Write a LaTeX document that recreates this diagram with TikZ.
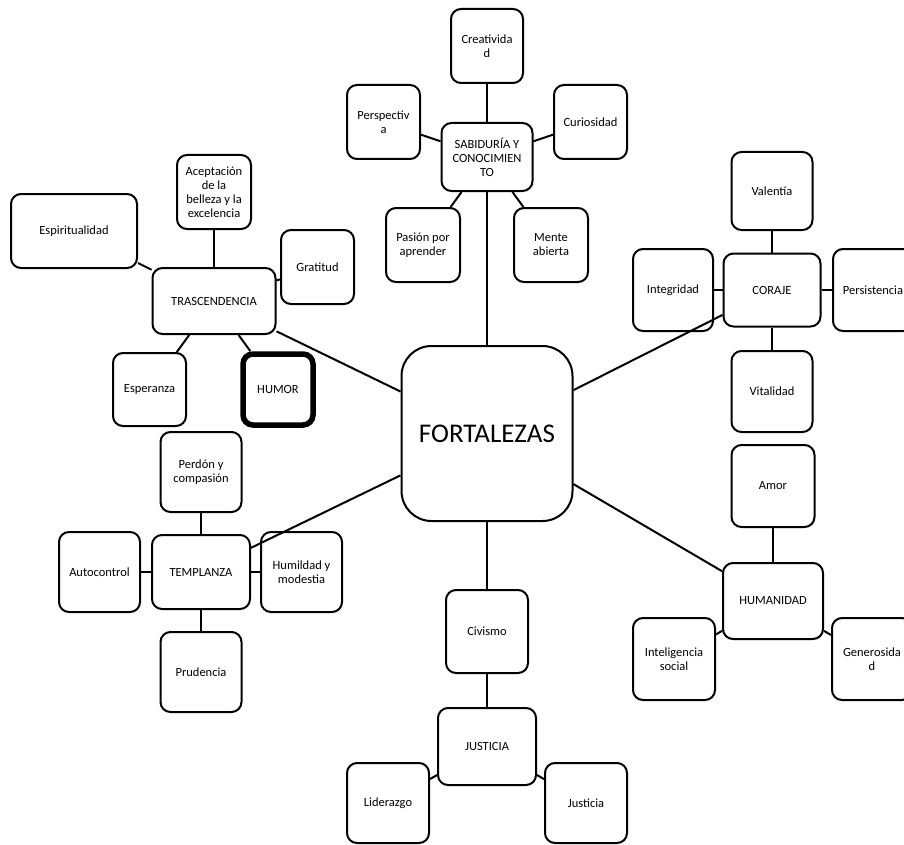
\documentclass[tikz,border=0pt]{standalone}
\usepackage{fontspec}
\setmainfont{Carlito}
\begin{document}
\begin{tikzpicture}[x=1pt,y=-1pt,
  box/.style={draw,line width=2pt,rounded corners=10pt,fill=white,align=center,inner sep=0pt,
    font=\fontsize{12.5}{14}\selectfont},
  big/.style={box,rounded corners=30pt,font=\fontsize{27}{30}\selectfont},
  thick box/.style={box,line width=5.5pt},
  link/.style={line width=2pt}]
\useasboundingbox (0,0) rectangle (904,845);
\fill[white] (0,0) rectangle (904,845);
\def\bx#1#2#3#4#5#6{\node[#1,minimum width=#4,minimum height=#5] (#2) at #3 {#6};}
% centre
\bx{big}{fort}{(487,433.5)}{171}{175}{FORTALEZAS}
% sabiduria
\bx{box}{sab}{(487,157)}{91}{68}{SABIDURÍA Y\\CONOCIMIEN\\TO}
\bx{box}{creat}{(487,46)}{72}{74}{Creativida\\d}
\bx{box}{persp}{(383.5,122)}{73}{74}{Perspectiv\\a}
\bx{box}{curio}{(590.5,122)}{73}{74}{Curiosidad}
\bx{box}{pasion}{(423,245)}{74}{74}{Pasión por\\aprender}
\bx{box}{mente}{(551,245)}{74}{74}{Mente\\abierta}
% trascendencia
\bx{box}{tras}{(214,301)}{123}{66}{TRASCENDENCIA}
\bx{box}{acept}{(214,192)}{74}{74}{Aceptación\\de la\\belleza y la\\excelencia}
\bx{box}{espir}{(74,231)}{126}{74}{Espiritualidad}
\bx{box}{grat}{(317.5,267)}{73}{74}{Gratitud}
\bx{box}{esper}{(149.5,389.5)}{73}{73}{Esperanza}
\bx{thick box}{humor}{(278,389.5)}{70}{71}{HUMOR}
% coraje
\bx{box}{coraje}{(772,290)}{97}{73}{CORAJE}
\bx{box}{valent}{(772,191)}{81}{78}{Valentía}
\bx{box}{integ}{(673,290)}{80}{82}{Integridad}
\bx{box}{persist}{(873,290)}{80}{82}{Persistencia}
\bx{box}{vital}{(772,391.5)}{81}{81}{Vitalidad}
% templanza
\bx{box}{templ}{(201,572)}{98}{74}{TEMPLANZA}
\bx{box}{perdon}{(201,472)}{81}{80}{Perdón y\\compasión}
\bx{box}{auto}{(99.5,572)}{81}{80}{Autocontrol}
\bx{box}{humil}{(301.5,572)}{81}{80}{Humildad y\\modestia}
\bx{box}{prud}{(201,672)}{81}{80}{Prudencia}
% humanidad
\bx{box}{human}{(773,601)}{100}{76}{HUMANIDAD}
\bx{box}{amor}{(773,486)}{83}{82}{Amor}
\bx{box}{intel}{(674,659)}{82}{82}{Inteligencia\\social}
\bx{box}{gener}{(872,659)}{80}{82}{Generosida\\d}
% justicia
\bx{box}{civ}{(487,631.5)}{82}{83}{Civismo}
\bx{box}{justG}{(487,746.5)}{98}{77}{JUSTICIA}
\bx{box}{lider}{(388,803)}{82}{80}{Liderazgo}
\bx{box}{justi}{(586,803)}{82}{80}{Justicia}
% links
\foreach \a/\b in {sab/creat,sab/persp,sab/curio,sab/pasion,sab/mente,sab/fort,
  tras/acept,tras/espir,tras/grat,tras/esper,tras/humor,tras/fort,
  coraje/valent,coraje/integ,coraje/persist,coraje/vital,coraje/fort,
  templ/perdon,templ/auto,templ/humil,templ/prud,templ/fort,
  human/amor,human/intel,human/gener,human/fort,
  fort/civ,civ/justG,justG/lider,justG/justi}
  \draw[link] (\a) -- (\b);
\end{tikzpicture}
\end{document}
